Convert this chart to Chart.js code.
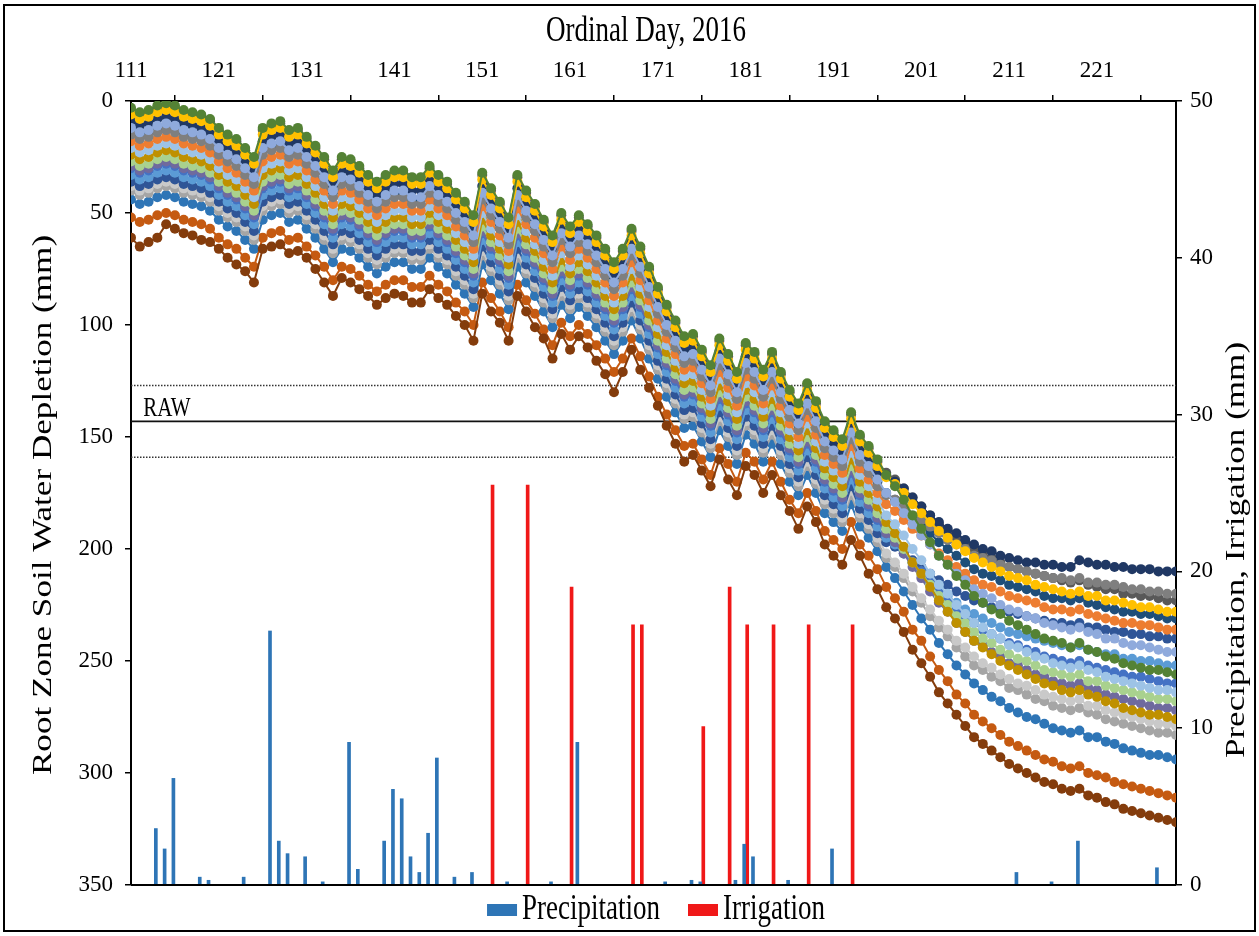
<!DOCTYPE html>
<html>
<head>
<meta charset="utf-8">
<title>Root zone soil water depletion, 2016</title>
<script src="https://cdn.jsdelivr.net/npm/chart.js@4.4.1/dist/chart.umd.min.js"></script>
<style>
  html, body { margin: 0; padding: 0; background: #fff; }
  #wrap { width: 1259px; height: 936px; }
</style>
</head>
<body>
<div id="wrap"><canvas id="chart" width="1259" height="936"></canvas></div>
<script>
// ordinal days, 2016
const days = [
  111,112,113,114,115,116,117,118,119,120,121,122,123,124,125,126,127,128,129,130,
  131,132,133,134,135,136,137,138,139,140,141,142,143,144,145,146,147,148,149,150,
  151,152,153,154,155,156,157,158,159,160,161,162,163,164,165,166,167,168,169,170,
  171,172,173,174,175,176,177,178,179,180,181,182,183,184,185,186,187,188,189,190,
  191,192,193,194,195,196,197,198,199,200,201,202,203,204,205,206,207,208,209,210,
  211,212,213,214,215,216,217,218,219,220,221,222,223,224,225,226,227,228,229,230
];
const dayTicks = [111, 121, 131, 141, 151, 161, 171, 181, 191, 201, 211, 221];
const depthTicks = [0, 50, 100, 150, 200, 250, 300, 350];
const waterTicks = [0, 10, 20, 30, 40, 50];

// readily available water (mm) and its band
const rawLevel = 143;
const rawBand = [127, 159];

// precipitation and irrigation (mm)
const precipDays = [114,115,116,119,120,124,127,128,129,131,133,136,137,140,141,142,143,144,145,146,148,150,154,159,162,172,175,176,180,181,182,186,191,212,216,219,228];
const precipMm = [3.6,2.3,6.8,0.5,0.3,0.5,16.2,2.8,2.0,1.8,0.2,9.1,1.0,2.8,6.1,5.5,1.8,0.8,3.3,8.1,0.5,0.8,0.2,0.2,9.1,0.2,0.3,0.2,0.3,2.6,1.8,0.3,2.3,0.8,0.2,2.8,1.1];
const irrigDays = [152,156,161,168,169,176,179,181,184,188,193];
const irrigMm = [25.5,25.5,19.0,16.6,16.6,10.1,19.0,16.6,16.6,16.6,16.6];

// root zone depletion (mm), one value per day
const dep01 = [3,5,4,2,1,2,4,5,6,8,12,15,17,21,25,12,10,9,13,12,16,20,25,31,25,26,29,33,36,33,31,31,34,34,29,33,36,41,45,51,32,39,45,52,33,40,46,53,60,50,56,51,55,60,66,72,66,57,65,74,83,91,98,105,104,111,118,106,113,121,108,112,120,112,121,129,135,126,134,143,147,151,139,149,154,160,
  167,172,178,185,191,197,203,207,212,216,221,224,227,229,232,234,236,238,240,241,242,244,242,245,246,248,249,251,252,253,254,254,255,256];
const dep02 = [6,8,7,5,4,5,7,8,9,11,15,18,20,24,28,15,13,12,16,15,19,23,28,34,28,29,32,36,39,36,34,34,37,37,32,36,39,44,48,54,35,42,48,55,36,43,49,56,63,53,59,54,58,63,69,75,69,60,68,77,86,94,101,108,107,114,121,109,116,124,111,115,123,115,124,132,138,129,137,146,150,154,142,152,157,163,
  168,171,175,180,184,188,192,195,198,201,204,206,208,210,212,213,214,216,217,218,219,220,219,221,221,223,223,224,225,226,226,227,228,228];
const dep03 = [9,11,10,8,7,8,10,11,12,14,18,21,23,27,31,18,16,15,19,18,22,26,31,37,31,32,35,39,42,39,37,37,40,40,35,39,42,47,51,57,38,45,51,58,39,46,52,59,66,56,62,57,61,66,72,78,72,63,71,80,89,97,104,111,110,117,124,112,119,127,114,118,126,118,127,135,141,132,140,149,153,157,145,155,160,166,
  167,170,173,177,181,185,188,191,193,196,198,200,201,203,204,205,206,206,207,207,208,208,205,206,207,207,208,208,209,209,209,210,210,210];
const dep04 = [12,14,13,11,10,11,13,14,15,17,21,24,26,30,34,21,19,18,22,21,25,29,34,40,34,35,38,42,45,42,40,40,43,43,38,42,45,50,54,60,41,48,54,61,42,49,55,62,69,59,65,60,64,69,75,81,75,66,74,83,92,100,107,114,113,120,127,115,122,130,117,121,129,121,130,138,144,135,143,152,156,160,148,158,163,169,
  175,179,184,189,194,198,203,207,211,214,218,220,222,225,227,228,230,231,233,234,235,236,235,237,238,240,240,242,243,243,244,245,246,246];
const dep05 = [15,17,16,14,13,14,16,17,18,20,24,27,29,33,37,24,22,21,25,24,28,32,37,43,37,38,41,45,48,45,43,43,46,46,41,45,48,53,57,63,44,51,57,64,45,52,58,65,72,62,68,63,67,72,78,84,78,69,77,86,95,103,110,117,116,123,130,118,125,133,120,124,132,124,133,141,147,138,146,155,159,163,151,161,166,172,
  176,178,181,185,187,190,193,196,198,200,203,204,205,207,208,209,210,211,212,213,213,214,213,215,215,216,216,217,218,218,219,219,220,220];
const dep06 = [18,20,19,17,16,17,19,20,21,23,27,30,32,36,40,27,25,24,28,27,31,35,40,46,40,41,44,48,51,48,46,46,49,49,44,48,51,56,60,66,47,54,60,67,48,55,61,68,75,65,71,66,70,75,81,87,81,72,80,89,98,106,113,120,119,126,133,121,128,136,123,127,135,127,136,144,150,141,149,158,162,166,154,164,169,175,
  180,183,187,191,194,198,202,205,208,211,214,216,217,219,221,222,223,224,226,227,227,228,227,229,230,231,232,233,233,234,234,235,236,236];
const dep07 = [21,23,22,20,19,20,22,23,24,26,30,33,35,39,43,30,28,27,31,30,34,38,43,49,43,44,47,51,54,51,49,49,52,52,47,51,54,59,63,69,50,57,63,70,51,58,64,71,78,68,74,69,73,78,84,90,84,75,83,92,101,109,116,123,122,129,136,124,131,139,126,130,138,130,139,147,153,144,152,161,165,169,157,167,172,178,
  185,189,194,200,205,211,216,220,225,229,233,235,238,240,243,244,246,248,249,251,252,253,252,254,255,257,258,259,260,261,262,263,263,264];
const dep08 = [24,26,25,23,22,23,25,26,27,29,33,36,38,42,46,33,31,30,34,33,37,41,46,52,46,47,50,54,57,54,52,52,55,55,50,54,57,62,66,72,53,60,66,73,54,61,67,74,81,71,77,72,76,81,87,93,87,78,86,95,104,112,119,126,125,132,139,127,134,142,129,133,141,133,142,150,156,147,155,164,168,172,160,170,175,181,
  188,193,199,206,211,217,223,228,233,237,241,244,247,250,252,254,256,258,260,261,263,264,263,265,266,268,269,271,272,273,274,274,275,276];
const dep09 = [27,29,28,26,25,26,28,29,30,32,36,39,41,45,49,36,34,33,37,36,40,44,49,55,49,50,53,57,60,57,55,55,58,58,53,57,60,65,69,75,56,63,69,76,57,64,70,77,84,74,80,75,79,84,90,96,90,81,89,98,107,115,122,129,128,135,142,130,137,145,132,136,144,136,145,153,159,150,158,167,171,175,163,173,178,184,
  191,195,200,206,211,216,221,225,230,233,237,240,242,245,247,249,250,252,254,255,256,257,256,259,259,261,262,263,264,265,266,267,267,268];
const dep10 = [30,32,31,29,28,29,31,32,33,35,39,42,44,48,52,39,37,36,40,39,43,47,52,58,52,53,56,60,63,60,58,58,61,61,56,60,63,68,72,78,59,66,72,79,60,67,73,80,87,77,83,78,82,87,93,99,93,84,92,101,110,118,125,132,131,138,145,133,140,148,135,139,147,139,148,156,162,153,161,170,174,178,166,176,181,187,
  193,196,201,206,210,215,219,223,227,230,233,236,238,240,242,243,245,246,248,249,250,251,250,252,253,254,255,256,257,257,258,259,260,260];
const dep11 = [33,35,34,32,31,32,34,35,36,38,42,45,47,51,55,42,40,39,43,42,46,50,55,61,55,56,59,63,66,63,61,61,64,64,59,63,66,71,75,81,62,69,75,82,63,70,76,83,90,80,86,81,85,90,96,102,96,87,95,104,113,121,128,135,134,141,148,136,143,151,138,142,150,142,151,159,165,156,164,173,177,181,169,179,184,190,
  195,198,202,206,210,214,218,221,224,227,229,231,233,235,237,238,239,240,241,242,243,244,243,245,246,247,247,249,249,250,250,251,252,252];
const dep12 = [36,38,37,35,34,35,37,38,39,41,45,48,50,54,58,45,43,42,46,45,49,53,58,64,58,59,62,66,69,66,64,64,67,67,62,66,69,74,78,84,65,72,78,85,66,73,79,86,93,83,89,84,88,93,99,105,99,90,98,107,116,124,131,138,137,144,151,139,146,154,141,145,153,145,154,162,168,159,167,176,180,184,172,182,187,193,
  197,199,202,205,208,211,214,216,219,221,223,224,226,227,228,229,230,231,232,233,233,234,233,235,235,236,237,237,238,238,239,239,240,240];
const dep13 = [40,42,41,39,38,39,41,42,43,45,49,52,54,58,62,49,47,46,50,49,53,57,62,68,62,63,66,70,73,70,68,68,71,71,66,70,73,78,82,88,69,76,82,89,70,77,83,90,97,87,93,88,92,97,103,109,103,94,102,111,120,128,135,142,141,148,155,143,150,158,145,149,157,149,158,166,172,163,171,180,184,188,176,186,191,197,
  204,208,213,219,224,230,235,239,244,248,252,254,257,259,262,263,265,267,268,270,271,272,271,273,274,276,277,278,279,280,281,282,282,283];
const dep14 = [44,46,45,43,42,43,45,46,47,49,53,56,58,62,66,53,51,50,54,53,57,61,66,72,66,67,70,74,77,74,72,72,75,75,70,74,77,82,86,92,73,80,86,93,74,81,87,94,101,91,97,92,96,101,107,113,107,98,106,115,124,132,139,146,145,152,159,147,154,162,149,153,161,153,162,170,176,167,175,184,188,192,180,190,195,201,
  208,213,219,225,231,236,242,247,252,256,260,263,266,268,271,273,275,276,278,280,281,282,281,284,284,286,287,289,290,291,292,292,293,294];
const dep15 = [52,54,53,51,50,51,53,54,55,57,61,64,66,70,74,61,59,58,62,61,65,69,74,80,74,75,78,82,85,82,80,80,83,83,78,82,85,90,94,100,81,88,94,101,82,89,95,102,109,99,105,100,104,109,115,121,115,106,114,123,132,140,147,154,153,160,167,155,162,170,157,161,169,161,170,178,184,175,183,192,196,200,188,198,203,209,
  217,222,228,236,241,248,254,259,265,269,274,277,280,283,286,288,290,292,294,295,297,298,297,300,301,302,304,305,306,307,308,309,310,311];
const dep16 = [61,65,63,61,55,57,59,60,62,63,66,70,73,76,81,66,65,64,68,67,70,75,81,87,79,81,84,87,91,88,86,87,90,90,84,88,91,96,100,107,86,94,99,107,87,94,101,106,115,104,111,105,110,116,122,130,121,111,120,128,136,145,153,161,158,165,172,160,169,176,163,167,175,167,176,183,191,181,188,198,203,207,196,203,211,218,
  226,231,237,245,251,257,264,269,274,279,284,287,290,293,296,298,300,302,304,305,307,308,307,310,311,313,314,316,317,318,319,320,321,322];
const dep17 = [4,6,5,3,2,3,5,6,7,9,13,16,18,22,26,13,11,10,14,13,17,21,26,32,26,27,30,34,37,34,32,32,35,35,30,34,37,42,46,52,33,40,46,53,34,41,47,54,61,51,57,52,56,61,67,73,67,58,66,75,84,92,99,106,105,112,119,107,114,122,109,113,121,113,122,130,136,127,135,144,148,152,140,150,155,161,
  166,169,173,177,181,185,189,192,195,198,200,202,204,206,208,209,210,211,212,213,214,215,214,216,217,218,218,220,220,221,221,222,223,223];
const dep18 = [13,15,14,12,11,12,14,15,16,18,22,25,27,31,35,22,20,19,23,22,26,30,35,41,35,36,39,43,46,43,41,41,44,44,39,43,46,51,55,61,42,49,55,62,43,50,56,63,70,60,66,61,65,70,76,82,76,67,75,84,93,101,108,115,114,121,128,116,123,131,118,122,130,122,131,139,145,136,144,153,157,161,149,159,164,170,
  175,178,182,186,189,193,197,200,203,206,209,211,212,214,216,217,218,219,221,222,222,223,222,224,225,226,227,228,228,229,229,230,231,231];
const dep19 = [29,31,30,28,27,28,30,31,32,34,38,41,43,47,51,38,36,35,39,38,42,46,51,57,51,52,55,59,62,59,57,57,60,60,55,59,62,67,71,77,58,65,71,78,59,66,72,79,86,76,82,77,81,86,92,98,92,83,91,100,109,117,124,131,130,137,144,132,139,147,134,138,146,138,147,155,161,152,160,169,173,177,165,175,180,186,
  193,197,202,208,213,219,224,228,233,237,241,243,246,248,251,252,254,256,257,259,260,261,260,262,263,265,266,267,268,269,270,271,271,272];
const dep20 = [38,40,39,37,36,37,39,40,41,43,47,50,52,56,60,47,45,44,48,47,51,55,60,66,60,61,64,68,71,68,66,66,69,69,64,68,71,76,80,86,67,74,80,87,68,75,81,88,95,85,91,86,90,95,101,107,101,92,100,109,118,126,133,140,139,146,153,141,148,156,143,147,155,147,156,164,170,161,169,178,182,186,174,184,189,195,
  202,206,211,217,222,227,232,236,241,244,248,251,253,256,258,260,261,263,265,266,267,268,267,270,270,272,273,274,275,276,277,278,278,279];

// drawing order: first entry ends up on top
const depSeries = [dep16, dep01, dep02, dep04, dep05, dep06, dep07, dep08, dep09, dep19, dep10, dep11, dep12, dep20, dep13, dep14, dep15, dep03, dep17, dep18];
const depColors = ['#843C0C', '#548235', '#FFC000', '#8FAADC', '#7F7F7F', '#ED7D31', '#9DC3E6', '#BF9000', '#A9D18E', '#6F6A9E', '#4472C4', '#5B9BD5', '#2F5597', '#C9C9C9', '#A5A5A5', '#2E75B6', '#C55A11', '#203864', '#595959', '#1F4E79'];

const precipColor = '#2E75B6';
const irrigColor = '#F01818';
const serif = "'Liberation Serif', 'Times New Roman', serif";
const stretch = 1.3; // text in the figure is taller than it is wide

Chart.defaults.font.family = serif;
Chart.defaults.color = '#000';

function drawText(ctx, text, x, y, size, angle) {
  ctx.save();
  ctx.translate(x, y);
  ctx.scale(1, stretch);
  ctx.rotate(angle);
  ctx.font = size + 'px ' + serif;
  ctx.textAlign = 'center';
  ctx.textBaseline = 'middle';
  ctx.fillStyle = '#000';
  ctx.fillText(text, 0, 0);
  ctx.restore();
}

const decor = {
  id: 'decor',
  afterDraw(chart) {
    const { ctx, chartArea: a, scales } = chart;
    ctx.save();
    // bottom axis line
    ctx.strokeStyle = '#000';
    ctx.lineWidth = 2;
    ctx.beginPath();
    ctx.moveTo(a.left, a.bottom);
    ctx.lineTo(a.right, a.bottom);
    ctx.stroke();
    // outer frame
    ctx.strokeRect(4, 5, 1251, 926);

    drawText(ctx, 'Ordinal Day, 2016', 646, 32, 27, 0);
    drawText(ctx, 'Root Zone Soil Water Depletion (mm)', 44, 505, 27, -Math.PI / 2);
    drawText(ctx, 'Precipitation, Irrigation (mm)', 1237, 550, 27, -Math.PI / 2);
    drawText(ctx, 'RAW', a.left + 36, scales.y.getPixelForValue(rawLevel) - 12, 21, 0);

    // legend for the bars
    ctx.font = '27px ' + serif;
    const w1 = ctx.measureText('Precipitation').width;
    const w2 = ctx.measureText('Irrigation').width;
    const box = 30, gap = 5, between = 28;
    const total = box + gap + w1 + between + box + gap + w2;
    let x = 656 - total / 2;
    const y = 910;
    ctx.fillStyle = precipColor;
    ctx.fillRect(x, y - 6, box, 12);
    drawText(ctx, 'Precipitation', x + box + gap + w1 / 2, y, 27, 0);
    x += box + gap + w1 + between;
    ctx.fillStyle = irrigColor;
    ctx.fillRect(x, y - 6, box, 12);
    drawText(ctx, 'Irrigation', x + box + gap + w2 / 2, y, 27, 0);
    ctx.restore();
  }
};

const lineSets = depSeries.map((vals, i) => ({
  type: 'line',
  data: vals.map((v, j) => ({ x: days[j], y: v })),
  yAxisID: 'y',
  borderColor: depColors[i],
  backgroundColor: depColors[i],
  borderWidth: 2,
  pointRadius: 5,
  pointBorderWidth: 0,
  pointBackgroundColor: depColors[i],
  tension: 0,
  fill: false
}));

const rawSets = [
  { value: rawLevel, dash: [] },
  { value: rawBand[0], dash: [1.5, 1.5] },
  { value: rawBand[1], dash: [1.5, 1.5] }
].map(r => ({
  type: 'line',
  data: [{ x: days[0], y: r.value }, { x: days[days.length - 1], y: r.value }],
  yAxisID: 'y',
  borderColor: r.dash.length ? '#333' : '#111',
  borderWidth: r.dash.length ? 1.5 : 1.8,
  borderDash: r.dash,
  pointRadius: 0,
  fill: false
}));

const barSets = [
  {
    type: 'bar',
    label: 'Precipitation',
    data: precipDays.map((d, i) => ({ x: d, y: precipMm[i] })),
    yAxisID: 'yR',
    backgroundColor: precipColor,
    barThickness: 3
  },
  {
    type: 'bar',
    label: 'Irrigation',
    data: irrigDays.map((d, i) => ({ x: d, y: irrigMm[i] })),
    yAxisID: 'yR',
    backgroundColor: irrigColor,
    barThickness: 3
  }
];

const tickFont = { family: serif, size: 23 };

new Chart(document.getElementById('chart'), {
  type: 'line',
  data: { datasets: [...lineSets, ...rawSets, ...barSets] },
  options: {
    responsive: false,
    animation: false,
    devicePixelRatio: 1,
    events: [],
    layout: { padding: { top: 0, left: 0, right: 0, bottom: 51 } },
    plugins: { legend: { display: false }, tooltip: { enabled: false } },
    scales: {
      x: {
        type: 'linear',
        position: 'top',
        min: 111,
        max: 230,
        offset: false,
        afterBuildTicks: s => { s.ticks = dayTicks.map(v => ({ value: v })); },
        afterFit: s => { s.height = 101; },
        ticks: { font: tickFont, color: '#000', padding: 10, maxRotation: 0, autoSkip: false },
        grid: { drawOnChartArea: false, tickLength: 6, color: '#000', lineWidth: 1.5 },
        border: { display: true, color: '#000', width: 2 }
      },
      y: {
        position: 'left',
        reverse: true,
        min: 0,
        max: 350,
        afterBuildTicks: s => { s.ticks = depthTicks.map(v => ({ value: v })); },
        afterFit: s => { s.width = 131; },
        ticks: { font: tickFont, color: '#000', padding: 12 },
        grid: { drawOnChartArea: false, tickLength: 6, color: '#000', lineWidth: 1.5 },
        border: { display: true, color: '#000', width: 2 }
      },
      yR: {
        position: 'right',
        min: 0,
        max: 50,
        afterBuildTicks: s => { s.ticks = waterTicks.map(v => ({ value: v })); },
        afterFit: s => { s.width = 83; },
        ticks: { font: tickFont, color: '#000', padding: 8 },
        grid: { drawOnChartArea: false, tickLength: 6, color: '#000', lineWidth: 1.5 },
        border: { display: true, color: '#000', width: 2 }
      }
    }
  },
  plugins: [decor]
});
</script>
</body>
</html>
